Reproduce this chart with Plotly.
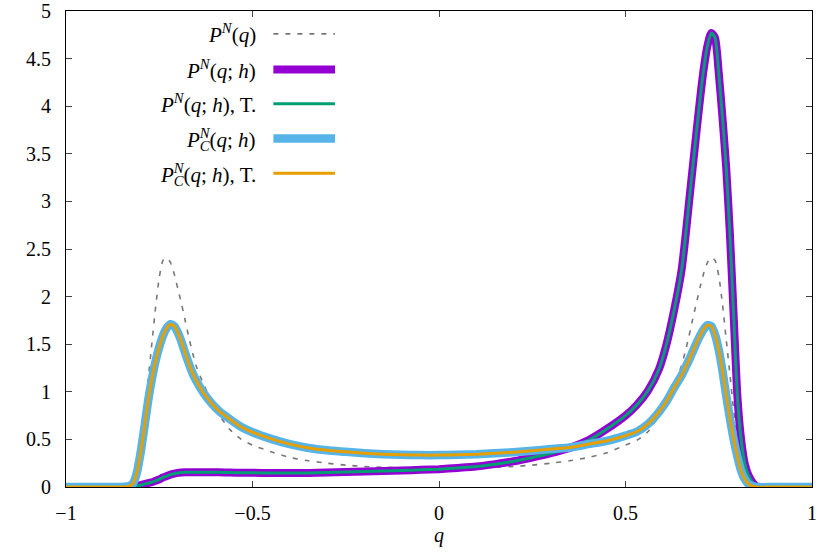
import plotly.graph_objects as go

q = [-1.0, -0.90, -0.85, -0.83, -0.82, -0.81, -0.80, -0.79, -0.78, -0.77, -0.76, -0.75, -0.74,
     -0.73, -0.72, -0.71, -0.70, -0.69, -0.68, -0.67, -0.66, -0.65, -0.63, -0.61, -0.59, -0.56,
     -0.53, -0.50, -0.45, -0.40, -0.35, -0.30, -0.25, -0.20, -0.15, -0.10, -0.05, 0.0,
     0.05, 0.10, 0.15, 0.20, 0.25, 0.30, 0.35, 0.40, 0.45, 0.50, 0.53, 0.56, 0.59, 0.61, 0.63,
     0.65, 0.66, 0.67, 0.68, 0.69, 0.70, 0.71, 0.72, 0.73, 0.74, 0.75, 0.76, 0.77, 0.78, 0.79,
     0.80, 0.81, 0.82, 0.83, 0.85, 0.90, 1.0]

# P^N(q)
p_n = [0, 0, 0, 0.02, 0.08, 0.22, 0.50, 0.78, 1.12, 1.50, 1.88, 2.20, 2.38,
       2.41, 2.36, 2.24, 2.08, 1.92, 1.74, 1.56, 1.40, 1.26, 1.07, 0.90, 0.76, 0.60,
       0.50, 0.44, 0.37, 0.31, 0.275, 0.25, 0.23, 0.215, 0.207, 0.203, 0.20, 0.20,
       0.20, 0.203, 0.207, 0.215, 0.23, 0.25, 0.275, 0.31, 0.36, 0.44, 0.49, 0.58, 0.75, 0.90, 1.08,
       1.27, 1.42, 1.58, 1.76, 1.93, 2.10, 2.25, 2.36, 2.41, 2.38, 2.22, 1.92, 1.55, 1.18, 0.80,
       0.48, 0.22, 0.08, 0.02, 0, 0, 0]

# P^N(q;h)
p_nh = [0, 0, 0, 0, 0.005, 0.012, 0.02, 0.03, 0.04, 0.05, 0.065, 0.08, 0.10,
        0.115, 0.13, 0.14, 0.148, 0.152, 0.155, 0.156, 0.156, 0.156, 0.155, 0.155, 0.154, 0.152,
        0.15, 0.149, 0.147, 0.146, 0.148, 0.152, 0.157, 0.162, 0.168, 0.174, 0.18, 0.187,
        0.20, 0.215, 0.24, 0.27, 0.31, 0.355, 0.41, 0.49, 0.61, 0.75, 0.86, 1.01, 1.24, 1.50, 1.85,
        2.27, 2.60, 2.98, 3.35, 3.72, 4.08, 4.40, 4.64, 4.77, 4.72, 4.35, 3.88, 3.35, 2.65, 1.80,
        0.95, 0.50, 0.24, 0.12, 0.01, 0, 0]

# P_C^N(q;h)
p_c = [0, 0, 0, 0.01, 0.04, 0.15, 0.36, 0.62, 0.90, 1.13, 1.32, 1.47, 1.59,
       1.67, 1.71, 1.69, 1.62, 1.52, 1.40, 1.29, 1.19, 1.11, 0.98, 0.88, 0.80, 0.71,
       0.63, 0.575, 0.505, 0.45, 0.41, 0.385, 0.37, 0.355, 0.345, 0.34, 0.335, 0.335,
       0.34, 0.345, 0.355, 0.365, 0.38, 0.40, 0.415, 0.45, 0.485, 0.54, 0.58, 0.66, 0.79, 0.90, 1.04,
       1.17, 1.25, 1.33, 1.42, 1.51, 1.59, 1.66, 1.70, 1.69, 1.60, 1.44, 1.22, 0.96, 0.72, 0.50,
       0.32, 0.17, 0.08, 0.03, 0, 0, 0]

PC = '<i>P</i><sub><i><span style="letter-spacing:-10px">C</span></i></sub><sup><i>N</i></sup>'
labels = ['<i>P</i><sup><i>N</i></sup>(<i>q</i>)',
          '<i>P</i><sup><i>N</i></sup>(<i>q</i>; <i>h</i>)',
          '<i>P</i><sup><i>N</i></sup>(<i>q</i>; <i>h</i>), T.',
          PC + '(<i>q</i>; <i>h</i>)',
          PC + '(<i>q</i>; <i>h</i>), T.']

styles = [('#777777', 1.6, '5px,7px'), ('#9400d3', 8, 'solid'), ('#009e73', 3, 'solid'),
          ('#56b4e9', 8.5, 'solid'), ('#e69f00', 3, 'solid')]
series = [p_n, p_nh, p_nh, p_c, p_c]

FONT = 'Liberation Serif'

fig = go.Figure()
for ys, (col, w, dash) in zip(series, styles):
    fig.add_trace(go.Scatter(x=q, y=ys, mode='lines', showlegend=False, hoverinfo='skip',
                             line=dict(color=col, width=w, dash=dash, shape='spline', smoothing=0.6)))

# legend drawn by hand: text right-aligned, sample line on the right
row_y = [0.952, 0.877, 0.805, 0.732, 0.659]
for lab, yy, (col, w, dash) in zip(labels, row_y, styles):
    fig.add_annotation(x=0.2574, y=yy, xref='paper', yref='paper', text=lab, showarrow=False,
                       xanchor='right', yanchor='middle', font=dict(family=FONT, size=21, color='black'))
    fig.add_shape(type='line', xref='paper', yref='paper', x0=0.278, x1=0.3606, y0=yy, y1=yy,
                  line=dict(color=col, width=w, dash=dash))

fig.update_xaxes(range=[-1, 1], dtick=0.5, tick0=-1, ticks='inside', ticklen=6, tickcolor='#444',
                 showline=True, linecolor='black', linewidth=1, mirror='ticks', showgrid=False,
                 zeroline=False, tickfont=dict(family=FONT, size=20, color='black'),
                 ticklabelstandoff=8, automargin=False, ticklabeloverflow='allow',
                 title=dict(text='<i>q</i>', font=dict(family=FONT, size=20, color='black'), standoff=0))
fig.update_yaxes(range=[0, 5], dtick=0.5, tick0=0, ticks='inside', ticklen=6, tickcolor='#444',
                 showline=True, linecolor='black', linewidth=1, mirror='ticks', showgrid=False,
                 zeroline=False, tickfont=dict(family=FONT, size=20, color='black'),
                 ticklabelstandoff=10, automargin=False, ticklabeloverflow='allow')
fig.update_layout(width=830, height=554, margin=dict(l=66, r=18, t=11, b=67),
                  plot_bgcolor='white', paper_bgcolor='white')
# drop the page's default body margin so the figure fills the window
fig.write_html('out.html', config={'displayModeBar': False},
               post_script="document.body.style.margin='0';")
